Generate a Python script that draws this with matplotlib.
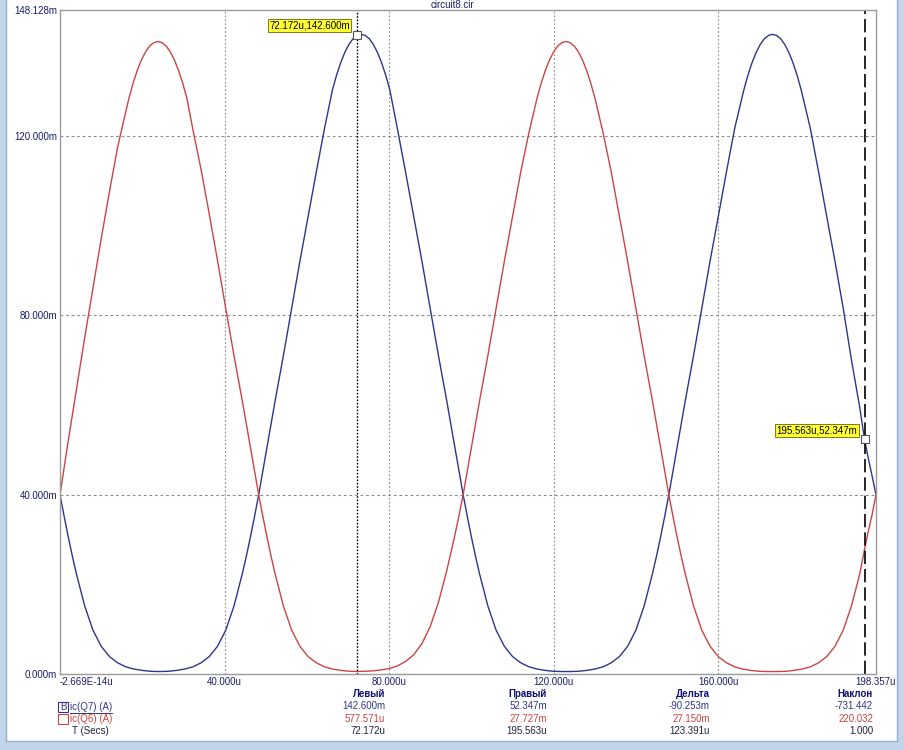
import matplotlib
matplotlib.use("Agg")
import matplotlib.pyplot as plt
from matplotlib.patches import Rectangle
from matplotlib.lines import Line2D

W, H = 904, 750

# время, мкс
blue_t = [0, 1, 2, 3, 4, 6, 8, 10, 12, 14, 16, 18, 20, 22, 24,
          26.3, 28.3, 30.3, 32.3, 34.3, 36.3, 38.3, 40.3, 42.3, 44.3, 45.3, 46.3, 47.3, 48.3,
          50.3, 52.3, 54.3, 56.3, 58.3, 60.3, 62.3, 64.3,
          66.2, 67.2, 68.2, 69.2, 70.2, 71.2, 72.172, 73.2, 74.2, 75.2, 76.2, 77.2, 78.2, 79.2, 80.2,
          82, 84, 86, 88, 90, 92, 94, 96, 98,
          99, 100, 101, 102, 104, 106, 108, 110, 112, 114, 116, 118, 120, 122,
          124, 126, 128, 130, 132, 134, 136, 138, 140, 142, 144, 145, 146, 147, 148,
          150, 152, 154, 156, 158, 160, 162, 164,
          166.2, 167.2, 168.2, 169.2, 170.2, 171.2, 172.2, 173.2, 174.2, 175.2, 176.2, 177.2, 178.2, 179.2, 180.2,
          182.4, 184.4, 186.4, 188.4, 190.4, 192.4, 194.4,
          195.563, 196.4, 197.4, 198.357]
# ic(Q7), мА
blue_v = [40, 35.2, 30.6, 26.3, 22.3, 15.2, 9.8, 6.2, 3.9, 2.5, 1.6, 1.1, 0.8, 0.6, 0.55,
          0.6, 0.8, 1.1, 1.6, 2.5, 3.9, 6.2, 9.8, 15.2, 22.3, 26.3, 30.6, 35.2, 40,
          50.5, 61, 71, 81.5, 92, 102, 112, 121.7,
          130.2, 133.5, 136.3, 138.6, 140.4, 141.7, 142.45, 142.7, 142.45, 141.7, 140.4, 138.6, 136.3, 133.5, 130.2,
          121.7, 112, 102, 92, 81.5, 71, 61, 50.5, 40,
          35.2, 30.6, 26.3, 22.3, 15.2, 9.8, 6.2, 3.9, 2.5, 1.6, 1.1, 0.8, 0.6, 0.55,
          0.55, 0.6, 0.8, 1.1, 1.6, 2.5, 3.9, 6.2, 9.8, 15.2, 22.3, 26.3, 30.6, 35.2, 40,
          50.5, 61, 71, 81.5, 92, 102, 112, 121.7,
          130.2, 133.5, 136.3, 138.6, 140.4, 141.7, 142.45, 142.7, 142.45, 141.7, 140.4, 138.6, 136.3, 133.5, 130.2,
          121.7, 112, 102, 92, 81.5, 70, 59.5,
          52.347, 48.5, 44.2, 40]

red_t = [0, 2, 4, 6, 8, 10, 12, 14, 16,
         16.8, 17.8, 18.8, 19.8, 20.8, 21.8, 22.8, 23.8, 24.8, 25.8, 26.8, 27.8, 28.8, 29.8, 30.8,
         32.3, 34.3, 36.3, 38.3, 40.3, 42.3, 44.3, 46.3, 48.3,
         49.3, 50.3, 51.3, 52.3, 54.3, 56.3, 58.3, 60.3, 62.3, 64.3, 66.3, 68.3, 70.3, 72.172,
         74, 76, 78, 80, 82, 84, 86, 88, 90, 92, 94, 95, 96, 97, 98,
         100, 102, 104, 106, 108, 110, 112, 114,
         116, 117, 118, 119, 120, 121, 122, 123, 124, 125, 126, 127, 128, 129, 130,
         132, 134, 136, 138, 140, 142, 144, 146, 148,
         149, 150, 151, 152, 154, 156, 158, 160, 162, 164, 166, 168, 170, 172,
         174.4, 176.4, 178.4, 180.4, 182.4, 184.4, 186.4, 188.4, 190.4, 192.4, 194.4,
         195.563, 196.4, 197.4, 198.357]
# ic(Q6), мА
red_v = [40, 52, 63.5, 75, 86, 97, 107.5, 117.5, 125.5,
         128.6, 131.9, 134.7, 137.0, 138.8, 140.1, 140.85, 141.1, 140.85, 140.1, 138.8, 137.0, 134.7, 131.9, 128.6,
         121.5, 112.5, 102.5, 92.2, 81.5, 71, 61, 50.5, 40,
         35.2, 30.6, 26.3, 22.3, 15.2, 9.8, 6.2, 3.9, 2.5, 1.6, 1.1, 0.8, 0.62, 0.578,
         0.6, 0.7, 0.9, 1.2, 1.8, 2.8, 4.3, 6.8, 10.6, 16, 23, 27, 31, 35.4, 40,
         50.5, 61, 71, 81.5, 92, 102, 112, 120.8,
         128.6, 131.9, 134.7, 137.0, 138.8, 140.1, 140.85, 141.1, 140.85, 140.1, 138.8, 137.0, 134.7, 131.9, 128.6,
         120.8, 112, 102, 92, 81.5, 71, 61, 50.5, 40,
         35.2, 30.6, 26.3, 22.3, 15.2, 9.8, 6.2, 3.9, 2.5, 1.6, 1.1, 0.8, 0.6, 0.55,
         0.55, 0.6, 0.8, 1.1, 1.6, 2.5, 3.9, 6.2, 9.8, 15.2, 22.3,
         27.727, 31.5, 35.5, 40]

x_ticks = [0, 40, 80, 120, 160, 198.357]
x_labels = ["-2.669E-14u", "40.000u", "80.000u", "120.000u", "160.000u", "198.357u"]
y_ticks = [0, 40, 80, 120, 148.128]
y_labels = ["0.000m", "40.000m", "80.000m", "120.000m", "148.128m"]

cursor_left = (72.172, 142.6)
cursor_right = (195.563, 52.347)

col_heads = ["Левый", "Правый", "Дельта", "Наклон"]
row_q7 = ["142.600m", "52.347m", "-90.253m", "-731.442"]
row_q6 = ["577.571u", "27.727m", "27.150m", "220.032"]
row_t = ["72.172u", "195.563u", "123.391u", "1.000"]

BLUE = "#30358a"
RED = "#cc4444"
NAVY = "#1a1f6a"
FONT = "Liberation Sans"

plt.rcParams["font.family"] = [FONT, "DejaVu Sans"]
plt.rcParams["font.size"] = 7


def fx(x):
    return x / W


def fy(y):
    return 1 - y / H


fig = plt.figure(figsize=(W / 100, H / 100), dpi=100)
fig.patch.set_facecolor("white")

# рамка окна
frame = "#c3d5ea"
edge = "#9ab0cc"
fig.add_artist(Rectangle((0, 0), fx(6), 1, transform=fig.transFigure, fc=frame, ec="none"))
fig.add_artist(Rectangle((fx(897), 0), fx(7), 1, transform=fig.transFigure, fc=frame, ec="none"))
fig.add_artist(Rectangle((0, 0), 1, fy(741), transform=fig.transFigure, fc=frame, ec="none"))
fig.add_artist(Line2D([fx(6), fx(6)], [fy(741), 1], transform=fig.transFigure, color=edge, lw=1))
fig.add_artist(Line2D([fx(6), fx(897)], [fy(741), fy(741)], transform=fig.transFigure, color=edge, lw=1))
fig.add_artist(Line2D([fx(897), fx(897)], [fy(741), 1], transform=fig.transFigure, color=edge, lw=1))

ax = fig.add_axes([fx(60), fy(674), fx(876) - fx(60), fy(10) - fy(674)])
ax.plot(blue_t, blue_v, color=BLUE, lw=1)
ax.plot(red_t, red_v, color=RED, lw=1)
ax.set_xlim(0, 198.357)
ax.set_ylim(0, 148.128)

for yv in [40, 80, 120]:
    ax.axhline(yv, color="#8c8c8c", lw=0.8, dashes=(2.5, 2.5), zorder=0)
for xv in [40, 80, 120, 160]:
    ax.axvline(xv, color="#8c8c8c", lw=0.8, dashes=(1.5, 2), zorder=0)

ax.set_xticks(x_ticks)
ax.set_xticklabels(x_labels, color=NAVY)
ax.set_yticks(y_ticks)
ax.set_yticklabels(y_labels, color=NAVY)
ax.xaxis.get_ticklabels()[0].set_horizontalalignment("left")
ax.tick_params(length=0, pad=2)
for s in ax.spines.values():
    s.set_color("#9a9a9a")
    s.set_linewidth(1)

# курсоры
ax.axvline(cursor_left[0], color="black", lw=1, dashes=(1.2, 1.2))
ax.axvline(cursor_right[0], color="black", lw=1.2, dashes=(8, 3))
for cx, cy in [cursor_left, cursor_right]:
    ax.plot(cx, cy, marker="s", ms=6, mfc="white", mec="#555555", mew=0.8, zorder=5)
    ax.annotate(f"{cx:.3f}u,{cy:.3f}m", (cx, cy), xytext=(-5, 3), textcoords="offset points",
                ha="right", va="bottom", fontsize=7, color="black",
                bbox=dict(boxstyle="square,pad=0.15", fc="#ffff33", ec="#666600", lw=0.6))

fig.text(0.5, fy(5), "circuit8.cir", ha="center", va="center", color=NAVY, fontsize=7)

# таблица внизу
col_right = [385, 547, 710, 873]
for xr, head, a, b, c in zip(col_right, col_heads, row_q7, row_q6, row_t):
    fig.text(fx(xr), fy(694), head, ha="right", va="center", color="#10107a", fontweight="bold")
    fig.text(fx(xr), fy(706), a, ha="right", va="center", color=BLUE)
    fig.text(fx(xr), fy(719), b, ha="right", va="center", color=RED)
    fig.text(fx(xr), fy(731), c, ha="right", va="center", color="#22223a")

fig.add_artist(Rectangle((fx(58), fy(712)), fx(10), fy(702) - fy(712), transform=fig.transFigure,
                         fc="white", ec=BLUE, lw=0.8))
fig.text(fx(63), fy(707), "B", ha="center", va="center", color=BLUE)
fig.add_artist(Rectangle((fx(58), fy(724)), fx(10), fy(714) - fy(724), transform=fig.transFigure,
                         fc="white", ec=RED, lw=0.8))
t1 = fig.text(fx(70), fy(707), "ic(Q7) (A)", ha="left", va="center", color=BLUE)
fig.text(fx(70), fy(719), "ic(Q6) (A)", ha="left", va="center", color=RED)
fig.text(fx(72), fy(731), "T (Secs)", ha="left", va="center", color="#22223a")

fig.canvas.draw()
bb = t1.get_window_extent()
fig.add_artist(Line2D([bb.x0 / W, bb.x1 / W], [(bb.y0 - 0.5) / H] * 2, transform=fig.transFigure,
                      color=BLUE, lw=0.7))

fig.savefig("out.png", dpi=100)
